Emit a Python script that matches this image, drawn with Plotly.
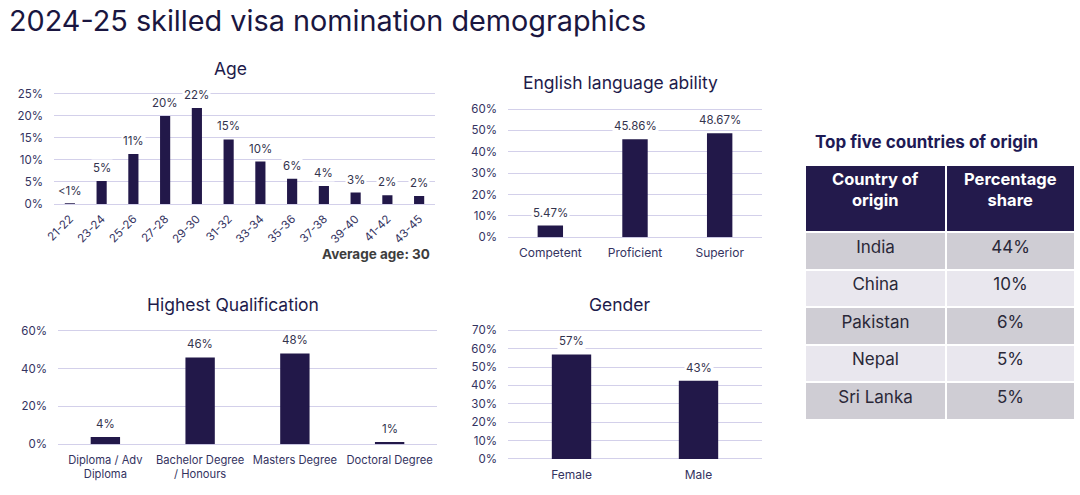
import plotly.graph_objects as go

# ---------------- data ----------------
age_groups = ["21-22", "23-24", "25-26", "27-28", "29-30", "31-32", "33-34",
              "35-36", "37-38", "39-40", "41-42", "43-45"]
age_values = [0.1, 5.2, 11.3, 19.9, 21.7, 14.6, 9.6, 5.7, 4.1, 2.6, 2.0, 1.8]
age_labels = ["<1%", "5%", "11%", "20%", "22%", "15%", "10%", "6%", "4%", "3%", "2%", "2%"]

english_levels = ["Competent", "Proficient", "Superior"]
english_values = [5.47, 45.86, 48.67]
english_labels = ["5.47%", "45.86%", "48.67%"]

qual_levels = ["Diploma / Adv<br>Diploma", "Bachelor Degree<br>/ Honours",
               "Masters Degree", "Doctoral Degree"]
qual_values = [3.9, 45.9, 48.0, 1.2]
qual_labels = ["4%", "46%", "48%", "1%"]

gender_levels = ["Female", "Male"]
gender_values = [56.9, 42.6]
gender_labels = ["57%", "43%"]

table_headers = ["Country of<br>origin", "Percentage<br>share"]
countries = ["India", "China", "Pakistan", "Nepal", "Sri Lanka"]
country_share = ["44%", "10%", "6%", "5%", "5%"]

# ---------------- style ----------------
W, H = 1080, 495
BAR = "#221849"
GRID = "#d3d0ea"
TICK = "#34335f"
TITLE = "#1e1b4b"
FONT = "Inter"


def px_x(a, b):
    return [a / W, b / W]


def px_y(top, bottom):
    return [1 - bottom / H, 1 - top / H]


fig = go.Figure()

panels = [
    # (axis id, cats, vals, labels, x px, y-bottom px, px-per-unit, range max, dtick, tickangle, gap, cat font)
    ("", age_groups, age_values, age_labels, (54, 435), 204.0, 4.42, 25.5, 5, -45, 0.68, 11.5),
    ("2", english_levels, english_values, english_labels, (508, 762), 237.3, 2.138, 61, 10, 0, 0.70, 12),
    ("3", qual_levels, qual_values, qual_labels, (58, 437), 444.3, 1.893, 61, 20, 0, 0.69, 11.2),
    ("4", gender_levels, gender_values, gender_labels, (508, 762), 459.0, 1.8386, 71, 10, 0, 0.69, 12),
]

annotations = []
for ax, cats, vals, labs, (x0, x1), ybot, ppu, rmax, dt, ang, gap, cfs in panels:
    xa = "x" + ax
    ya = "y" + ax
    fig.add_trace(go.Bar(x=cats, y=vals, marker=dict(color=BAR, line=dict(width=0)),
                         xaxis=xa, yaxis=ya, showlegend=False, hoverinfo="x+y",
                         width=1 - gap))
    top = ybot - ppu * rmax
    fig.update_layout(**{
        "xaxis" + ax: dict(domain=px_x(x0, x1), anchor=ya, showgrid=False,
                           showline=False, zeroline=False, ticks="", automargin=False,
                           tickangle=ang, ticklabelstandoff=(7 if ang == 0 else 5),
                           tickfont=dict(size=cfs, color=TICK)),
        "yaxis" + ax: dict(domain=px_y(top, ybot), anchor=xa, range=[0, rmax], dtick=dt,
                           ticksuffix="%", showgrid=True, gridcolor=GRID, gridwidth=1.2,
                           zeroline=True, zerolinecolor=GRID, zerolinewidth=1.2,
                           showline=False, ticks="", ticklabelstandoff=10, automargin=False,
                           tickfont=dict(size=11.5, color=TICK)),
    })
    for c, v, t in zip(cats, vals, labs):
        annotations.append(dict(x=c, y=v, xref=xa, yref=ya, text=t, showarrow=False,
                                yanchor="middle", yshift=13, bgcolor="white",
                                borderpad=1, font=dict(size=11.5, color="#33334d")))

titles = [
    ("Age", 230, 68),
    ("English language ability", 620, 83),
    ("Highest Qualification", 233, 304),
    ("Gender", 620, 304),
]
for t, x, y in titles:
    annotations.append(dict(x=x / W, y=1 - y / H, xref="paper", yref="paper", text=t,
                            showarrow=False, xanchor="center", yanchor="middle",
                            font=dict(size=17.5, color=TITLE, family=FONT)))

annotations.append(dict(x=7 / W, y=1 - 20 / H, xref="paper", yref="paper",
                        text="2024-25 skilled visa nomination demographics",
                        showarrow=False, xanchor="left", yanchor="middle",
                        font=dict(size=28.8, color="#1a1640", family=FONT)))
annotations.append(dict(x=432 / W, y=1 - 254 / H, xref="paper", yref="paper",
                        text="<b>Average age: 30</b>", showarrow=False,
                        xanchor="right", yanchor="middle",
                        font=dict(size=13.5, color="#3d3d3d", family=FONT)))
annotations.append(dict(x=813 / W, y=1 - 142 / H, xref="paper", yref="paper",
                        text="<b>Top five countries of origin</b>", showarrow=False,
                        xanchor="left", yanchor="middle",
                        font=dict(size=17, color="#1e1a55", family=FONT)))

# table header text (centred lines)
for hdr, cx in zip(table_headers, [875, 1010]):
    annotations.append(dict(x=cx / W, y=1 - 189 / H, xref="paper", yref="paper",
                            text="<b>" + hdr + "</b>", showarrow=False, align="center",
                            xanchor="center", yanchor="middle",
                            font=dict(size=16.5, color="white", family=FONT)))

row_colors = ["#cfcdd4", "#e9e7ee", "#cfcdd4", "#e9e7ee", "#cfcdd4"]
fig.add_trace(go.Table(
    domain=dict(x=[805 / W, 1075 / W], y=px_y(165, 421)),
    columnwidth=[141, 129],
    header=dict(values=["", ""],
                fill_color="#231a4c", line=dict(color="white", width=2),
                align="center", height=67,
                font=dict(size=16, color="white", family=FONT)),
    cells=dict(values=[countries, country_share],
               fill_color=[row_colors, row_colors], line=dict(color="white", width=2),
               align="center", height=37.5,
               font=dict(size=17, color="#2a2838", family=FONT)),
))

fig.update_layout(
    width=W, height=H, margin=dict(l=0, r=0, t=0, b=0, autoexpand=False),
    paper_bgcolor="white", plot_bgcolor="white",
    font=dict(family=FONT, color=TICK),
    annotations=annotations, showlegend=False,
)

fig.write_html("out.html")
